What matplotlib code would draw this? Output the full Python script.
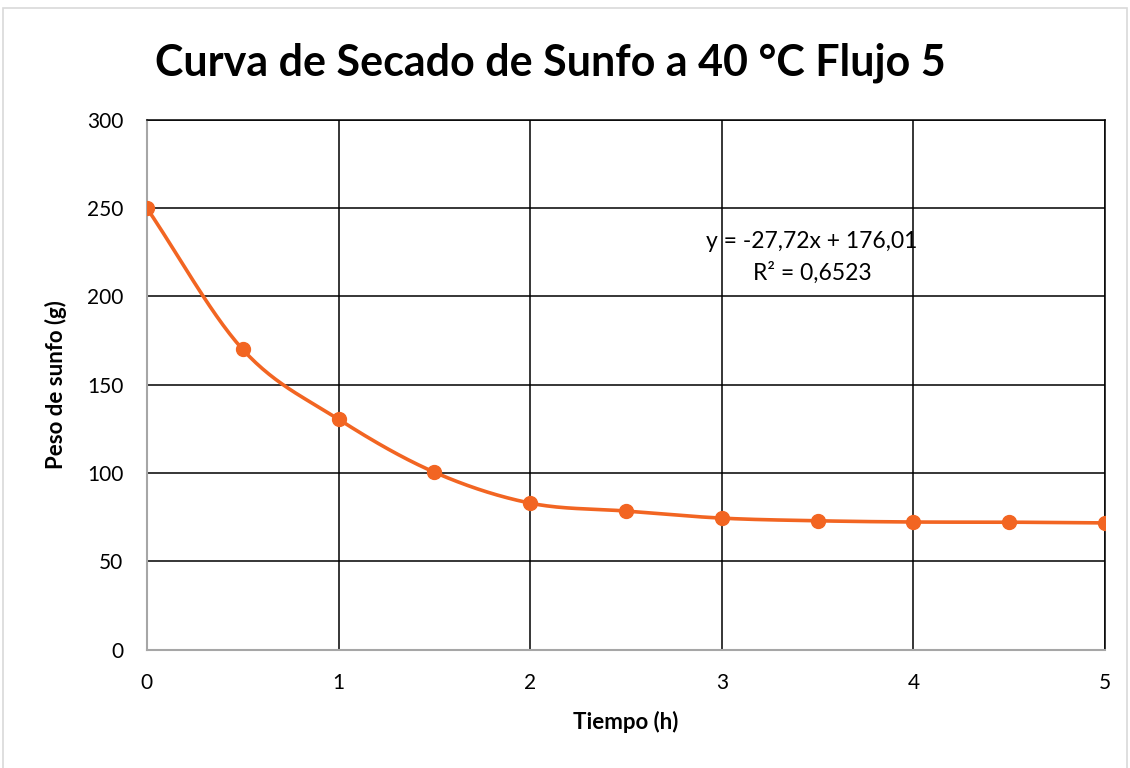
import numpy as np
import matplotlib.pyplot as plt
from matplotlib.patches import Rectangle

# Datos
tiempo_h = [0, 0.5, 1, 1.5, 2, 2.5, 3, 3.5, 4, 4.5, 5]
peso_g = [250, 170, 130.5, 100.5, 83, 78.5, 74.5, 73, 72.3, 72.2, 71.8]
x_ticks = [0, 1, 2, 3, 4, 5]
y_ticks = [0, 50, 100, 150, 200, 250, 300]

C_LINE = "#F26522"
FONT = ["Lato", "DejaVu Sans"]


def smooth(x, y, n=30):
    """Curva suavizada tipo Excel (Catmull-Rom) que pasa por los puntos."""
    x = np.asarray(x, float)
    y = np.asarray(y, float)
    px = np.concatenate([[2 * x[0] - x[1]], x, [2 * x[-1] - x[-2]]])
    py = np.concatenate([[2 * y[0] - y[1]], y, [2 * y[-1] - y[-2]]])
    xs, ys = [], []
    t = np.linspace(0, 1, n)
    for i in range(1, len(px) - 2):
        for p, out in ((px, xs), (py, ys)):
            p0, p1, p2, p3 = p[i - 1], p[i], p[i + 1], p[i + 2]
            out.extend(0.5 * ((2 * p1) + (-p0 + p2) * t
                              + (2 * p0 - 5 * p1 + 4 * p2 - p3) * t ** 2
                              + (-p0 + 3 * p1 - 3 * p2 + p3) * t ** 3))
    return xs, ys


plt.rcParams["font.family"] = FONT

fig = plt.figure(figsize=(11.3, 7.68), dpi=100)
fig.patch.set_facecolor("white")
ax = fig.add_axes([0.130, 0.154, 0.848, 0.690])

sx, sy = smooth(tiempo_h, peso_g)
ax.plot(sx, sy, color=C_LINE, lw=2.6, zorder=3, solid_capstyle="round")
ax.plot(tiempo_h, peso_g, "o", color=C_LINE, ms=10, zorder=4)

ax.set_xlim(0, 5)
ax.set_ylim(0, 300)
ax.set_xticks(x_ticks)
ax.set_yticks(y_ticks)
ax.grid(True, color="black", lw=1.1)
ax.tick_params(length=0, labelsize=15, pad=17)

for s in ("top", "right"):
    ax.spines[s].set_color("black")
    ax.spines[s].set_linewidth(1.1)
for s in ("left", "bottom"):
    ax.spines[s].set_color("#A6A6A6")
    ax.spines[s].set_linewidth(1.5)

ax.set_xlabel("Tiempo (h)", fontsize=16, fontweight="bold", labelpad=13)
ax.set_ylabel("Peso de sunfo (g)", fontsize=16, fontweight="bold", labelpad=14)

ax.text(3.47, 222, "y = -27,72x + 176,01\nR² = 0,6523", ha="center",
        va="center", fontsize=16.5, linespacing=1.5, zorder=1)

fig.text(0.487, 0.918, "Curva de Secado de Sunfo a 40 °C Flujo 5",
         ha="center", va="center", fontsize=31, fontweight="bold")

fig.patches.append(Rectangle((0.003, -0.01), 0.994, 1.0, transform=fig.transFigure,
                             fill=False, ec="#D9D9D9", lw=1.2))

fig.savefig("out.png", dpi=100, facecolor="white")
